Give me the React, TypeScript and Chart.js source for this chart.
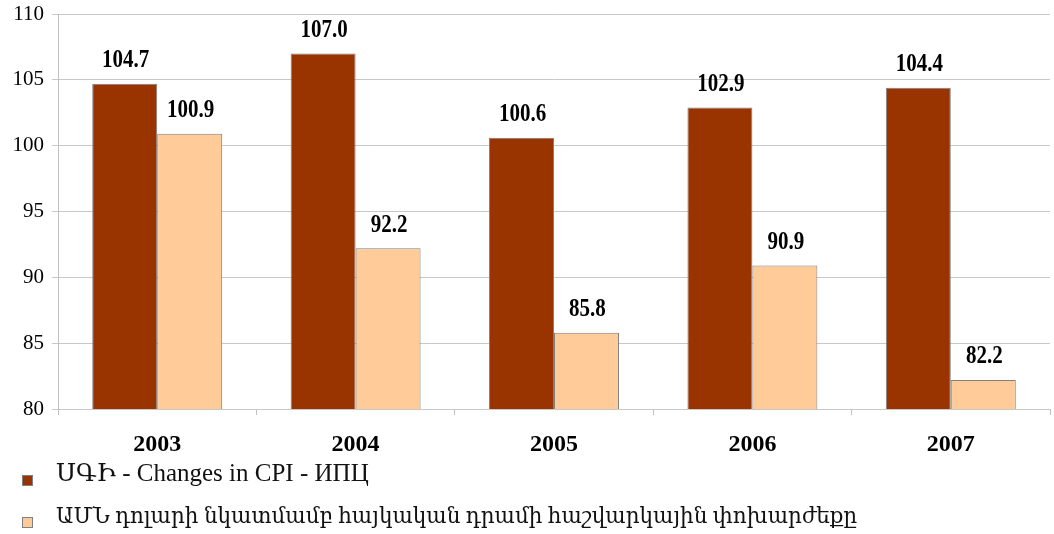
import React, { useEffect, useRef } from "react";
import { Chart, registerables } from "chart.js";

Chart.register(...registerables);

const categories = ["2003", "2004", "2005", "2006", "2007"];
const cpiValues = [104.7, 107.0, 100.6, 102.9, 104.4];
const exchangeValues = [100.9, 92.2, 85.8, 90.9, 82.2];
const seriesNames = [
  "ՍԳԻ - Changes in CPI - ИПЦ",
  "ԱՄՆ դոլարի նկատմամբ հայկական դրամի հաշվարկային փոխարժեքը",
];
const seriesColors = ["#993300", "#FFCC99"];
const yTicks = [80, 85, 90, 95, 100, 105, 110];

const FONT = "'Liberation Serif', 'DejaVu Serif', 'Times New Roman', serif";

const valueLabels = {
  id: "valueLabels",
  afterDatasetsDraw(chart: any) {
    const ctx = chart.ctx;
    chart.data.datasets.forEach((ds: any, di: number) => {
      const meta = chart.getDatasetMeta(di);
      meta.data.forEach((bar: any, i: number) => {
        ctx.save();
        ctx.font = `bold 21px ${FONT}`;
        ctx.fillStyle = "#000";
        ctx.textAlign = "center";
        ctx.textBaseline = "middle";
        ctx.translate(bar.x + 1, bar.y - 23);
        ctx.scale(1, 1.15);
        ctx.fillText(Number(ds.data[i]).toFixed(1), 0, 0);
        ctx.restore();
      });
    });
  },
};

const customLegend = {
  id: "customLegend",
  afterDraw(chart: any) {
    const ctx = chart.ctx;
    const baselines = [481, 523];
    const sizes = [25, 21.5];
    chart.data.datasets.forEach((ds: any, di: number) => {
      const b = baselines[di];
      ctx.save();
      ctx.fillStyle = ds.backgroundColor;
      ctx.strokeStyle = "#808080";
      ctx.lineWidth = 1;
      ctx.fillRect(22, b - 6, 11, 11);
      ctx.strokeRect(22.5, b - 5.5, 10, 10);
      ctx.font = `${sizes[di]}px ${FONT}`;
      ctx.textAlign = "left";
      ctx.textBaseline = "alphabetic";
      ctx.fillStyle = "#111";
      ctx.fillText(ds.label, 56, b);
      ctx.restore();
    });
  },
};

export default function App() {
  const canvasRef = useRef<HTMLCanvasElement | null>(null);

  useEffect(() => {
    document.body.style.margin = "0";
    const canvas = canvasRef.current;
    if (!canvas) return;
    const chart = new Chart(canvas, {
      type: "bar",
      data: {
        labels: categories,
        datasets: [
          {
            label: seriesNames[0],
            data: cpiValues,
            backgroundColor: seriesColors[0],
            borderColor: "#808080",
            borderWidth: 1,
            categoryPercentage: 0.655,
            barPercentage: 1.0,
          },
          {
            label: seriesNames[1],
            data: exchangeValues,
            backgroundColor: seriesColors[1],
            borderColor: "#808080",
            borderWidth: 1,
            categoryPercentage: 0.655,
            barPercentage: 1.0,
          },
        ],
      },
      options: {
        animation: false,
        responsive: false,
        maintainAspectRatio: false,
        layout: { padding: { top: 14, right: 4, left: 0, bottom: 0 } },
        plugins: {
          legend: { display: false },
          tooltip: { enabled: false },
        },
        scales: {
          x: {
            offset: true,
            grid: {
              offset: true,
              drawOnChartArea: false,
              drawTicks: true,
              tickLength: 6,
              color: "#c0c0c0",
            },
            border: { display: false },
            ticks: {
              color: "#000",
              font: { family: FONT, size: 24, weight: "bold" },
              padding: 15,
            },
            afterFit(scale: any) {
              scale.height = 125;
              scale.paddingLeft = 0;
              scale.paddingRight = 0;
            },
          },
          y: {
            min: 80,
            max: 110,
            afterBuildTicks(scale: any) {
              scale.ticks = yTicks.map((v) => ({ value: v }));
            },
            grid: {
              color: "#c8c8c8",
              tickLength: 6,
            },
            border: { display: true, color: "#c0c0c0" },
            ticks: {
              color: "#000",
              font: { family: FONT, size: 21 },
              padding: 8,
            },
            afterFit(scale: any) {
              scale.width = 58;
              scale.paddingTop = 0;
              scale.paddingBottom = 0;
            },
          },
        },
      },
      plugins: [valueLabels, customLegend],
    });
    return () => chart.destroy();
  }, []);

  return (
    <div style={{ width: 1054, height: 534, background: "#fff" }}>
      <canvas ref={canvasRef} width={1054} height={534} style={{ display: "block" }} />
    </div>
  );
}
